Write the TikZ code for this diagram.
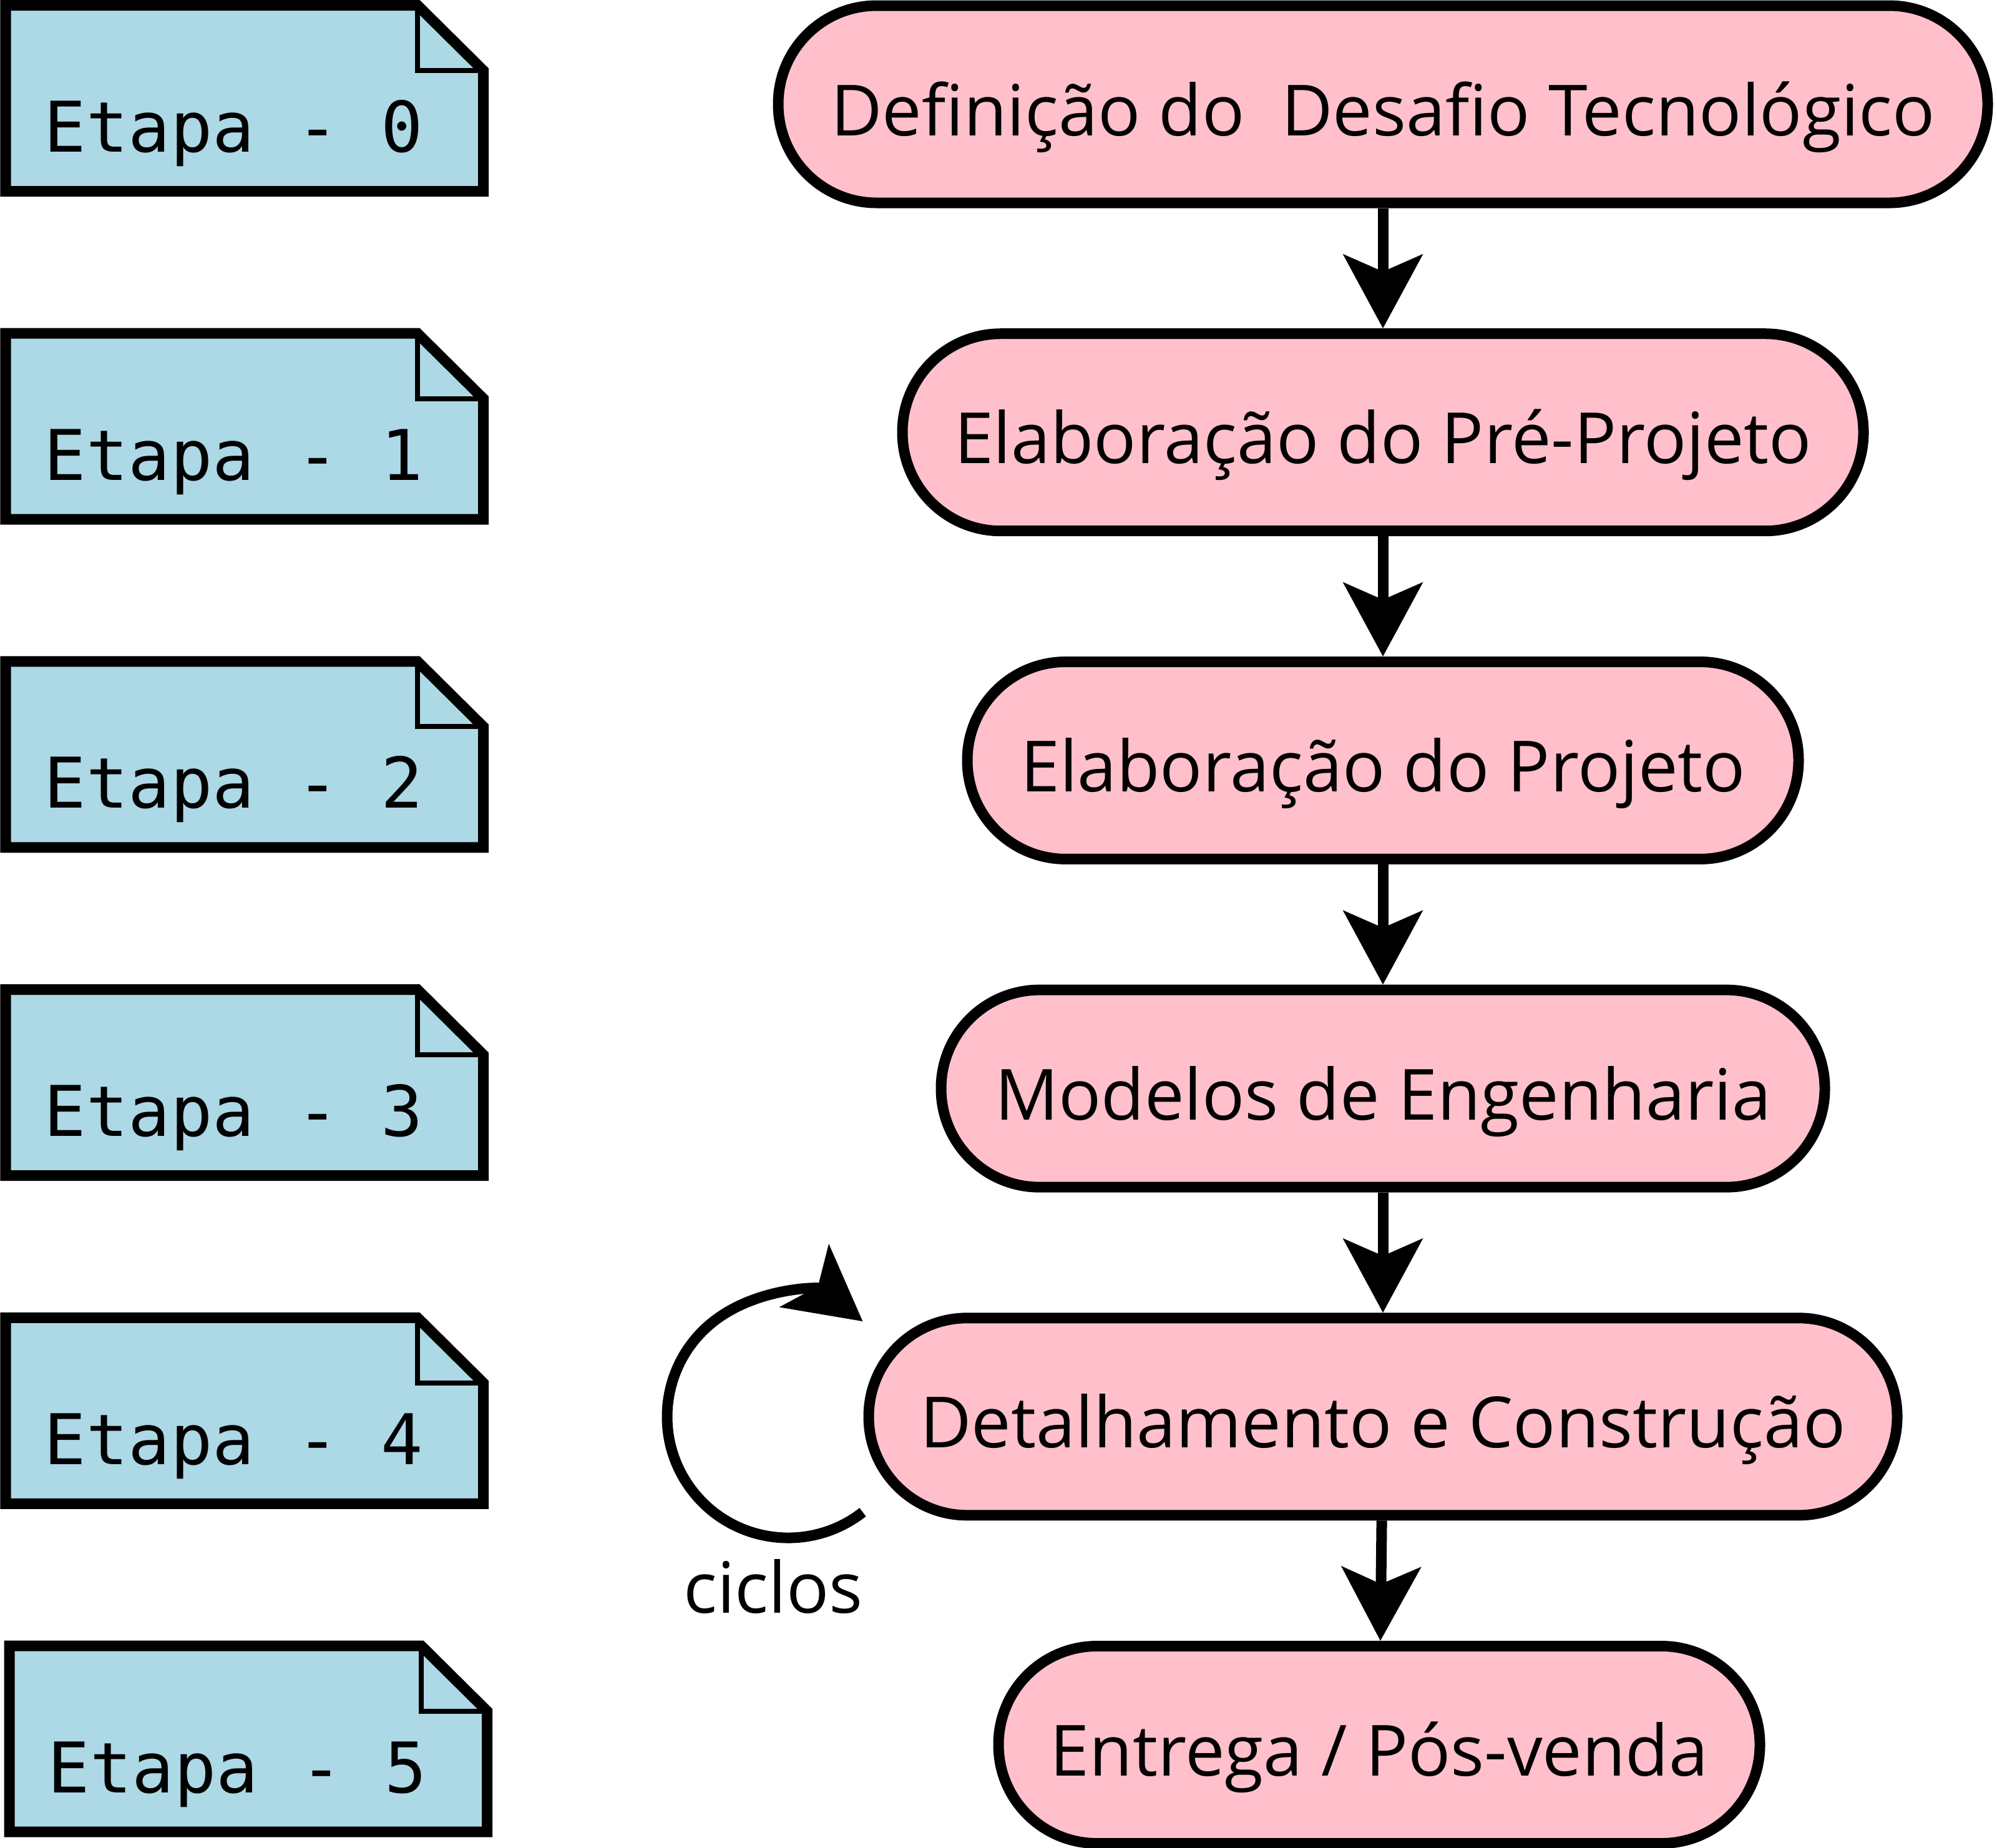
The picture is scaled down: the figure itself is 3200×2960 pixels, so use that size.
\documentclass[tikz,border=0pt]{standalone}
\usepackage{fontspec}
\setmainfont{Open Sans}
\newfontfamily\monof{DejaVu Sans Mono}
\usetikzlibrary{arrows.meta}
\definecolor{notefill}{HTML}{ADD8E6}
\definecolor{boxfill}{HTML}{FFC0CB}
\tikzset{
  stage/.style={draw=black, line width=4.25pt, fill=boxfill, rounded corners=39.4pt,
    minimum height=79pt, inner sep=0pt, font=\fontsize{28.3pt}{34pt}\selectfont,
    text height=25pt, text depth=0pt},
  flow/.style={line width=4.25pt, -{Stealth[length=29.5pt, width=31.5pt, inset=6.75pt]}},
  noteline/.style={draw=black, line width=4.25pt, fill=notefill},
  foldline/.style={draw=black, line width=2pt},
  notetext/.style={anchor=base west, inner sep=0pt, font=\monof\fontsize{28pt}{34pt}\selectfont},
  lbl/.style={anchor=base, inner sep=0pt, font=\fontsize{28.3pt}{34pt}\selectfont}
}
\begin{document}
\begin{tikzpicture}[x=0.25pt, y=-0.25pt]
\useasboundingbox (0,0) rectangle (3200,2960);
% notes
\foreach \k/\dx in {0/0,1/0,2/0,3/0,4/0,5/6}{
  \pgfmathsetmacro{\ytop}{8.5+525.7*\k}
  \pgfmathsetmacro{\ybot}{\ytop+298}
  \pgfmathsetmacro{\xl}{9+\dx}
  \pgfmathsetmacro{\xr}{774.5+\dx}
  \draw[noteline] (\xl,\ytop) -- (\xr-105.5,\ytop) -- (\xr,\ytop+104.5) -- (\xr,\ybot) -- (\xl,\ybot) -- cycle;
  \draw[foldline] (\xr-105.5,\ytop) -- (\xr-105.5,\ytop+104.5) -- (\xr,\ytop+104.5);
  \node[notetext] (e\k) at (\xl+61,\ytop+235) {Etapa - \k};
}
% stages
\node[stage, minimum width=484.5pt] (b0) at (2216,167)    {Definição do\ \ Desafio Tecnológico};
\node[stage, minimum width=385pt]   (b1) at (2216,692.7)  {Elaboração do Pré-Projeto};
\node[stage, minimum width=333pt]   (b2) at (2216,1218.4) {Elaboração do Projeto};
\node[stage, minimum width=354pt]   (b3) at (2216,1744.1) {Modelos de Engenharia};
\node[stage, minimum width=412pt]   (b4) at (2216,2269.8) {Detalhamento e Construção};
\node[stage, minimum width=305pt]   (b5) at (2210,2795.5) {Entrega / Pós-venda};
\draw[flow] (b0) -- (b1);
\draw[flow] (b1) -- (b2);
\draw[flow] (b2) -- (b3);
\draw[flow] (b3) -- (b4);
\draw[flow] (b4) -- (b5);
% cycle
\coordinate (cyc) at (1263,2270);
\draw[flow] (cyc) ++(52:194) arc[start angle=52, end angle=308, radius=194];
\node[lbl] (ciclos) at (1239,2584) {ciclos};
\end{tikzpicture}
\end{document}
